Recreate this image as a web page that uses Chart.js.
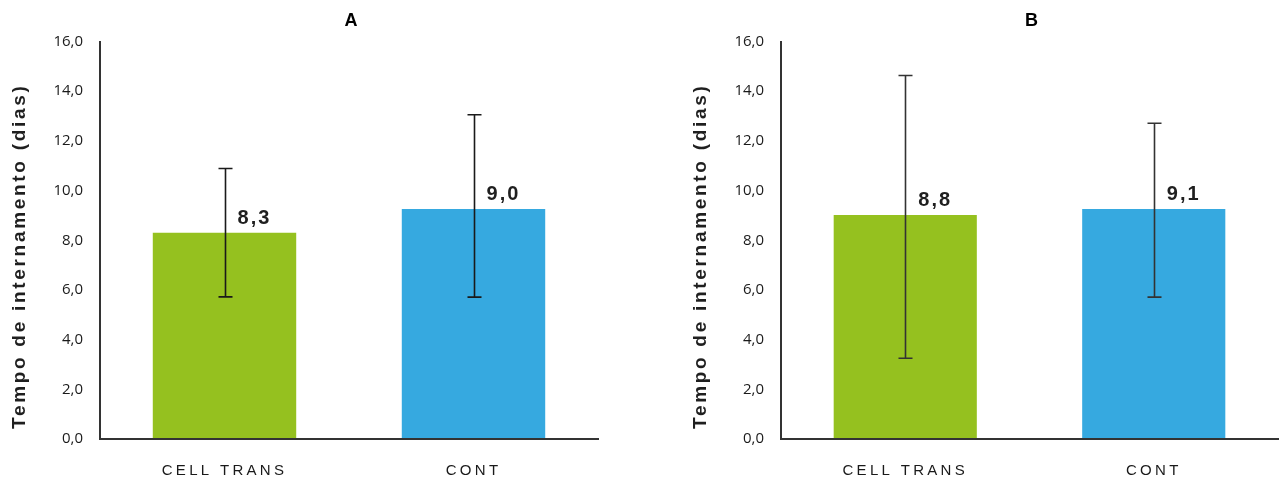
<!DOCTYPE html>
<html>
<head>
<meta charset="utf-8">
<script src="https://cdn.jsdelivr.net/npm/chart.js@4.4.1/dist/chart.umd.min.js"></script>
<style>
  html, body { margin: 0; padding: 0; background: #ffffff; }
  #wrap { position: relative; width: 1286px; height: 480px; }
  #cA { position: absolute; left: 0; top: 0; }
  #cB { position: absolute; left: 640px; top: 0; }
</style>
</head>
<body>
<div id="wrap">
  <canvas id="cA" width="640" height="480"></canvas>
  <canvas id="cB" width="646" height="480"></canvas>
</div>
<script>
// ---- data ----
const categories = ['CELL TRANS', 'CONT'];
const panelTitles = ['A', 'B'];
const yAxisTitle = 'Tempo de internamento (dias)';
const yTickValues = [0, 2, 4, 6, 8, 10, 12, 14, 16];
const yTickLabels = ['0,0', '2,0', '4,0', '6,0', '8,0', '10,0', '12,0', '14,0', '16,0'];

const meanA = [8.30, 9.26];
const valueLabelsA = ['8,3', '9,0'];
const errLowA = [5.72, 5.71];
const errHighA = [10.89, 13.05];

const meanB = [9.02, 9.26];
const valueLabelsB = ['8,8', '9,1'];
const errLowB = [3.25, 5.71];
const errHighB = [14.63, 12.71];

const barColors = ['#95C11F', '#36A9E0'];

// ---- plugin: error bars, value labels, titles ----
const decorPlugin = {
  id: 'decor',
  afterDatasetsDraw(chart, args, opts) {
    const ctx = chart.ctx;
    const meta = chart.getDatasetMeta(0);
    const ys = chart.scales.y;
    ctx.save();
    // error bars
    ctx.strokeStyle = opts.errColor;
    ctx.lineWidth = 1.6;
    meta.data.forEach((bar, i) => {
      const x = Math.round(bar.x) + 0.5;
      const yHi = ys.getPixelForValue(opts.errHigh[i]);
      const yLo = ys.getPixelForValue(opts.errLow[i]);
      ctx.beginPath();
      ctx.moveTo(x, yHi); ctx.lineTo(x, yLo);
      ctx.moveTo(x - 7, yHi); ctx.lineTo(x + 7, yHi);
      ctx.moveTo(x - 7, yLo); ctx.lineTo(x + 7, yLo);
      ctx.stroke();
    });
    // value labels
    ctx.fillStyle = '#1f1f1f';
    ctx.font = 'bold 20px "Liberation Sans", Arial, sans-serif';
    ctx.letterSpacing = '2px';
    ctx.textAlign = 'center';
    ctx.textBaseline = 'middle';
    meta.data.forEach((bar, i) => {
      ctx.fillText(opts.valueLabels[i], bar.x + 30, bar.y - 14.5);
    });
    ctx.restore();
    // letter spacing for the x axis labels drawn next (x ticks z = 1)
    ctx.letterSpacing = '3.3px';
  },
  afterDraw(chart, args, opts) {
    const ctx = chart.ctx;
    const a = chart.chartArea;
    ctx.letterSpacing = '0px';
    ctx.save();
    // panel title
    ctx.fillStyle = '#000000';
    ctx.font = 'bold 18px "Liberation Sans", Arial, sans-serif';
    ctx.textAlign = 'center';
    ctx.textBaseline = 'middle';
    ctx.fillText(opts.title, (a.left + a.right) / 2 + 2, 21);
    // y axis title
    ctx.translate(a.left - 80.5, (a.top + a.bottom) / 2 + 16);
    ctx.rotate(-Math.PI / 2);
    ctx.fillStyle = '#1f1f1f';
    ctx.font = 'bold 19px "Liberation Sans", Arial, sans-serif';
    ctx.letterSpacing = '2.7px';
    ctx.fillText(yAxisTitle, 0, 0);
    ctx.restore();
    ctx.letterSpacing = '0px';
  }
};

function makeChart(canvasId, title, means, valueLabels, errLow, errHigh, yWidth, padRight, errColor) {
  return new Chart(document.getElementById(canvasId), {
    type: 'bar',
    data: {
      labels: categories,
      datasets: [{
        data: means,
        backgroundColor: barColors,
        borderWidth: 0,
        barPercentage: 0.576,
        categoryPercentage: 1.0
      }]
    },
    options: {
      responsive: false,
      animation: false,
      layout: { padding: { left: 0, right: padRight, top: 41.5, bottom: 0 } },
      plugins: {
        legend: { display: false },
        tooltip: { enabled: false },
        title: { display: false },
        decor: { title, valueLabels, errLow, errHigh, errColor }
      },
      scales: {
        x: {
          grid: { display: false, drawTicks: false },
          border: { display: true, color: '#333333', width: 2, z: 1 },
          ticks: {
            z: 1,
            padding: 23,
            color: '#1a1a1a',
            font: { family: '"Liberation Sans", Arial, sans-serif', size: 15 }
          },
          afterFit(scale) { scale.height = 41; }
        },
        y: {
          min: 0,
          max: 16,
          grid: { display: false, drawTicks: false },
          border: { display: true, color: '#333333', width: 2 },
          afterBuildTicks(scale) { scale.ticks = yTickValues.map(v => ({ value: v })); },
          ticks: {
            padding: 17,
            color: '#1a1a1a',
            font: { family: '"Open Sans", sans-serif', size: 15 },
            callback(value, index) { return yTickLabels[index]; }
          },
          afterFit(scale) { scale.width = yWidth; }
        }
      }
    },
    plugins: [decorPlugin]
  });
}

makeChart('cA', panelTitles[0], meanA, valueLabelsA, errLowA, errHighA, 100, 42, '#1a1a1a');
makeChart('cB', panelTitles[1], meanB, valueLabelsB, errLowB, errHighB, 141, 8, '#333333');
</script>
</body>
</html>
